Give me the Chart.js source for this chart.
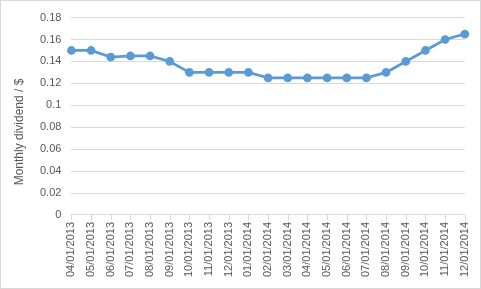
<!DOCTYPE html>
<html>
<head>
<meta charset="utf-8">
<script src="https://cdn.jsdelivr.net/npm/chart.js@4"></script>
<style>
html,body{margin:0;padding:0;background:#fff;}
#wrap{width:481px;height:289px;box-sizing:border-box;border:1px solid #d9d9d9;position:relative;}
canvas{display:block;}
</style>
</head>
<body>
<div id="wrap"><canvas id="c" width="479" height="287"></canvas></div>
<script>
const categories = ["04/01/2013","05/01/2013","06/01/2013","07/01/2013","08/01/2013","09/01/2013","10/01/2013","11/01/2013","12/01/2013","01/01/2014","02/01/2014","03/01/2014","04/01/2014","05/01/2014","06/01/2014","07/01/2014","08/01/2014","09/01/2014","10/01/2014","11/01/2014","12/01/2014"];
const dividends = [0.15,0.15,0.144,0.145,0.145,0.14,0.13,0.13,0.13,0.13,0.125,0.125,0.125,0.125,0.125,0.125,0.13,0.14,0.15,0.16,0.165];
const yAxisTitle = "Monthly dividend / $";

const FONT = "'Liberation Sans', Arial, sans-serif";
new Chart(document.getElementById('c'), {
  type: 'line',
  data: {
    labels: categories,
    datasets: [{
      data: dividends,
      borderColor: '#5B9BD5',
      backgroundColor: '#5B9BD5',
      borderWidth: 2.75,
      pointRadius: 3,
      pointBackgroundColor: '#5B9BD5',
      pointBorderColor: '#5B9BD5',
      tension: 0,
      fill: false
    }]
  },
  options: {
    responsive: false,
    animation: false,
    layout: { padding: { left: 29, right: 11, top: 7, bottom: 9 } },
    plugins: { legend: { display: false }, tooltip: { enabled: false } },
    scales: {
      x: {
        offset: false,
        grid: { display: false, drawTicks: true, tickLength: 5, color: '#d9d9d9' },
        border: { display: true, color: '#d9d9d9', width: 1 },
        ticks: { color: '#595959', font: { family: FONT, size: 11 }, minRotation: 90, maxRotation: 90, autoSkip: false, padding: 2 }
      },
      y: {
        min: 0, max: 0.18,
        ticks: { stepSize: 0.02, color: '#595959', font: { family: FONT, size: 11 }, padding: 10,
          callback: v => String(parseFloat(Number(v).toFixed(2))) },
        grid: { color: '#d9d9d9', drawTicks: false, lineWidth: 1 },
        border: { display: false },
        title: { display: false }
      }
    }
  },
  plugins: [{
    id: 'xticksAndTitle',
    afterDraw(chart) {
      const x = chart.scales.x, ctx = chart.ctx, yb = chart.chartArea.bottom;
      ctx.save(); ctx.strokeStyle = '#d9d9d9'; ctx.lineWidth = 1;
      for (let i = 0; i < categories.length; i++) {
        const px = Math.round(x.getPixelForValue(i)) + 0.5;
        ctx.beginPath(); ctx.moveTo(px, yb); ctx.lineTo(px, yb + 5); ctx.stroke();
      }
      ctx.restore();
      ctx.save();
      ctx.translate(19, 131);
      ctx.rotate(-Math.PI / 2);
      ctx.fillStyle = '#595959';
      ctx.font = "12px " + FONT;
      ctx.textAlign = 'center';
      ctx.textBaseline = 'middle';
      ctx.fillText(yAxisTitle, 0, 0);
      ctx.restore();
    }
  }]
});
</script>
</body>
</html>
